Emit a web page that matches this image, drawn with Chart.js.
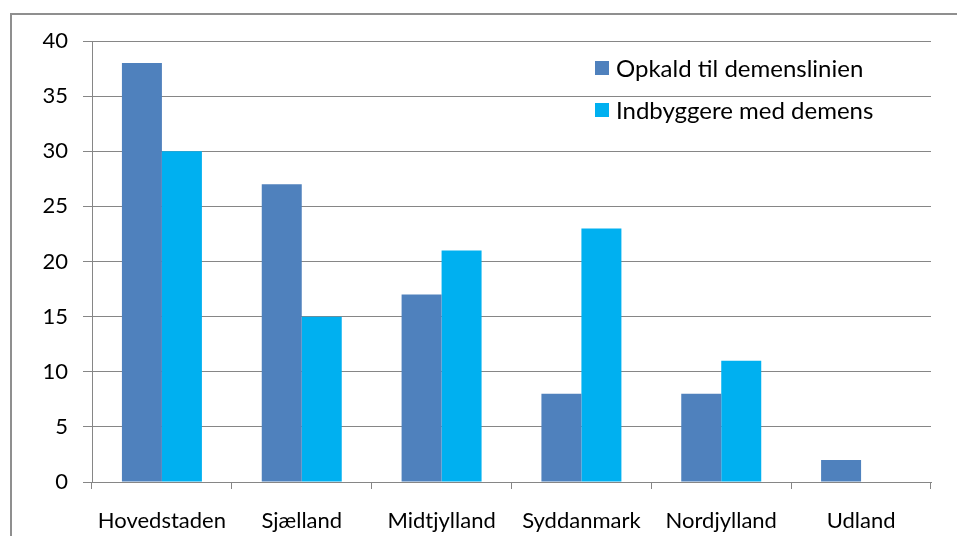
<!DOCTYPE html>
<html><head><meta charset="utf-8">
<script src="https://cdn.jsdelivr.net/npm/chart.js@4/dist/chart.umd.min.js"></script>
<style>html,body{margin:0;padding:0;background:#fff;}canvas{display:block;}</style>
</head><body>
<canvas id="c" width="957" height="536"></canvas>
<script>
const categories = ["Hovedstaden","Sjælland","Midtjylland","Syddanmark","Nordjylland","Udland"];
const opkald = [38,27,17,8,8,2];
const indbyggere = [30,15,21,23,11,0];
const seriesLabels = ["Opkald til demenslinien","Indbyggere med demens"];
const yTicks = [0,5,10,15,20,25,30,35,40];

const FONT = "Lato, 'Open Sans', sans-serif";

const framePlugin = {
  id:'frame',
  beforeDraw(chart){
    const ctx = chart.ctx;
    ctx.save();
    ctx.fillStyle='#fff';
    ctx.fillRect(0,0,chart.width,chart.height);
    ctx.strokeStyle='#8f8f8f';
    ctx.lineWidth=2;
    ctx.beginPath();
    ctx.moveTo(11,chart.height+5);
    ctx.lineTo(11,14);
    ctx.lineTo(chart.width+5,14);
    ctx.stroke();
    ctx.restore();
  }
};

const legendPlugin = {
  id:'inlegend',
  afterDraw(chart){
    const ctx = chart.ctx;
    ctx.save();
    ctx.font = "24px " + FONT;
    ctx.textBaseline='middle';
    chart.data.datasets.forEach((ds,i)=>{
      const y = 61 + i*42;
      ctx.fillStyle = ds.backgroundColor;
      ctx.fillRect(595,y,14,14);
      ctx.fillStyle = '#000';
      ctx.fillText(ds.label, 616, y+8);
    });
    ctx.restore();
  }
};

new Chart(document.getElementById('c'),{
  type:'bar',
  data:{
    labels:categories,
    datasets:[
      {label:seriesLabels[0],data:opkald,backgroundColor:'#4F81BD',categoryPercentage:0.572,barPercentage:1},
      {label:seriesLabels[1],data:indbyggere,backgroundColor:'#00B0F0',categoryPercentage:0.572,barPercentage:1}
    ]
  },
  options:{
    responsive:false,
    animation:false,
    layout:{padding:{left:0,top:41,right:26,bottom:0}},
    plugins:{legend:{display:false},tooltip:{enabled:false}},
    scales:{
      x:{
        grid:{display:true,drawOnChartArea:false,drawTicks:true,tickLength:7,color:'#868686',offset:true},
        border:{color:'#868686'},
        ticks:{color:'#000',font:{family:FONT,size:22},padding:19,maxRotation:0},
        afterFit(s){s.height=54;}
      },
      y:{
        min:0,max:40,
        afterBuildTicks(s){s.ticks=yTicks.map(v=>({value:v}));},
        grid:{color:'#868686',tickLength:9,drawTicks:true},
        border:{color:'#868686'},
        ticks:{color:'#000',font:{family:FONT,size:22},padding:15},
        afterFit(s){s.width=92;}
      }
    }
  },
  plugins:[framePlugin,legendPlugin]
});
</script>
</body></html>
